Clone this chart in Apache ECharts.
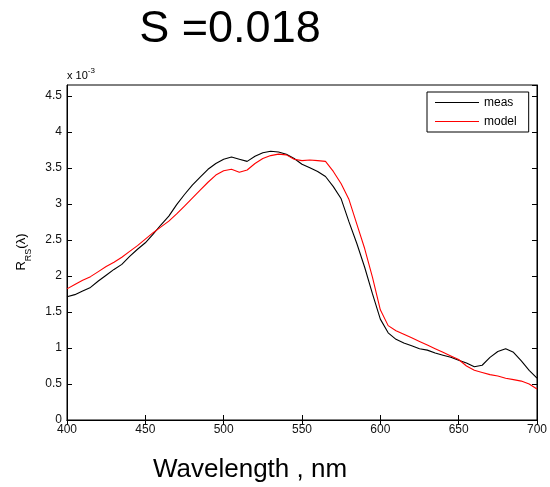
<!DOCTYPE html>
<html>
<head>
<meta charset="utf-8">
<script src="https://cdn.jsdelivr.net/npm/echarts@6/dist/echarts.min.js"></script>
<style>html,body{margin:0;padding:0;background:#fff;}#c{width:550px;height:487px;}</style>
</head>
<body>
<div id="c"></div>
<script>
const wavelengths = [400,405,410,415,420,425,430,435,440,445,450,455,460,465,470,475,480,485,490,495,500,505,510,515,520,525,530,535,540,545,550,555,560,565,570,575,580,585,590,595,600,605,610,615,620,625,630,635,640,645,650,655,660,665,670,675,680,685,690,695,700];
const meas = [1.71,1.74,1.79,1.84,1.93,2.01,2.09,2.16,2.27,2.37,2.46,2.58,2.71,2.83,2.99,3.13,3.26,3.37,3.48,3.56,3.62,3.65,3.62,3.59,3.66,3.71,3.73,3.72,3.69,3.63,3.55,3.50,3.45,3.38,3.24,3.07,2.75,2.45,2.12,1.75,1.40,1.21,1.12,1.07,1.03,0.99,0.97,0.93,0.90,0.87,0.83,0.79,0.74,0.76,0.87,0.95,0.99,0.94,0.82,0.69,0.58];
const model = [1.82,1.88,1.94,1.99,2.06,2.13,2.19,2.26,2.34,2.42,2.51,2.60,2.68,2.76,2.86,2.97,3.08,3.19,3.30,3.40,3.46,3.48,3.44,3.47,3.56,3.63,3.67,3.69,3.68,3.62,3.60,3.61,3.60,3.59,3.45,3.28,3.06,2.72,2.38,1.98,1.53,1.31,1.24,1.19,1.14,1.09,1.04,0.99,0.94,0.89,0.84,0.75,0.69,0.66,0.63,0.61,0.58,0.56,0.54,0.50,0.43];
const seriesNames = ['meas','model'];
const titleText = 'S =0.018';
const xLabel = 'Wavelength , nm';

const FONT = 'Liberation Sans, Arial, sans-serif';
const chart = echarts.init(document.getElementById('c'), null, {renderer:'canvas'});
const axisCommon = {
  axisLine:{show:true, lineStyle:{color:'#000', width:1}},
  axisTick:{show:true, inside:true, length:5, lineStyle:{color:'#000'}},
  splitLine:{show:false}
};
chart.setOption({
  animation:false,
  backgroundColor:'#fff',
  grid:{left:67, right:10, top:85, bottom:67, show:true, borderColor:'#000', borderWidth:1},
  legend:{
    data:seriesNames, orient:'vertical', left:427, top:92,
    icon:'rect', itemWidth:44, itemHeight:1, itemGap:4,
    padding:[3,12,3,8], borderColor:'#000', borderWidth:1, backgroundColor:'#fff',
    textStyle:{fontFamily:FONT, fontSize:12, color:'#000', lineHeight:15}
  },
  xAxis:[
    Object.assign({type:'value', min:400, max:700, interval:50, position:'bottom',
      axisLabel:{fontFamily:FONT, fontSize:12, color:'#111', margin:4}}, axisCommon),
    Object.assign({type:'value', min:400, max:700, interval:50, position:'top',
      axisLabel:{show:false}}, axisCommon)
  ],
  yAxis:[
    Object.assign({type:'value', min:0, max:4.65, interval:0.5, position:'left',
      axisLabel:{fontFamily:FONT, fontSize:12, color:'#111', margin:5, showMaxLabel:false,
        formatter:function(v){return Math.abs(v-4.65)<1e-6?'':String(Math.round(v*10)/10);}}}, axisCommon),
    Object.assign({type:'value', min:0, max:4.65, interval:0.5, position:'right',
      axisLabel:{show:false}}, axisCommon)
  ],
  series:[
    {name:seriesNames[0], type:'line', data:wavelengths.map((w,i)=>[w,meas[i]]),
      showSymbol:false, lineStyle:{color:'#000', width:1.1}, itemStyle:{color:'#000'}},
    {name:seriesNames[1], type:'line', data:wavelengths.map((w,i)=>[w,model[i]]),
      showSymbol:false, lineStyle:{color:'#ff0000', width:1.1}, itemStyle:{color:'#ff0000'}}
  ],
  graphic:[
    {type:'text', x:230, y:30, style:{text:titleText, font:'45px '+FONT, fill:'#000', textAlign:'center', textVerticalAlign:'middle'}},
    {type:'text', x:250, y:470, style:{text:xLabel, font:'26px '+FONT, fill:'#000', textAlign:'center', textVerticalAlign:'middle'}},
    {type:'text', x:67, y:74, style:{
      text:'{a|x 10}{b|-3}', textAlign:'left', textVerticalAlign:'middle',
      rich:{a:{fontFamily:FONT, fontSize:11, fill:'#000', lineHeight:14, verticalAlign:'bottom'},
            b:{fontFamily:FONT, fontSize:8, fill:'#000', lineHeight:14, verticalAlign:'top'}}}},
    {type:'text', x:24, y:252, rotation:Math.PI/2, style:{
      text:'{r|R}{s|RS}{r|(λ)}', textAlign:'center', textVerticalAlign:'middle',
      rich:{r:{fontFamily:FONT, fontSize:13, fill:'#000', lineHeight:14, verticalAlign:'top'},
            s:{fontFamily:FONT, fontSize:9, fill:'#000', lineHeight:19, verticalAlign:'bottom'}}}}
  ]
});
</script>
</body>
</html>
